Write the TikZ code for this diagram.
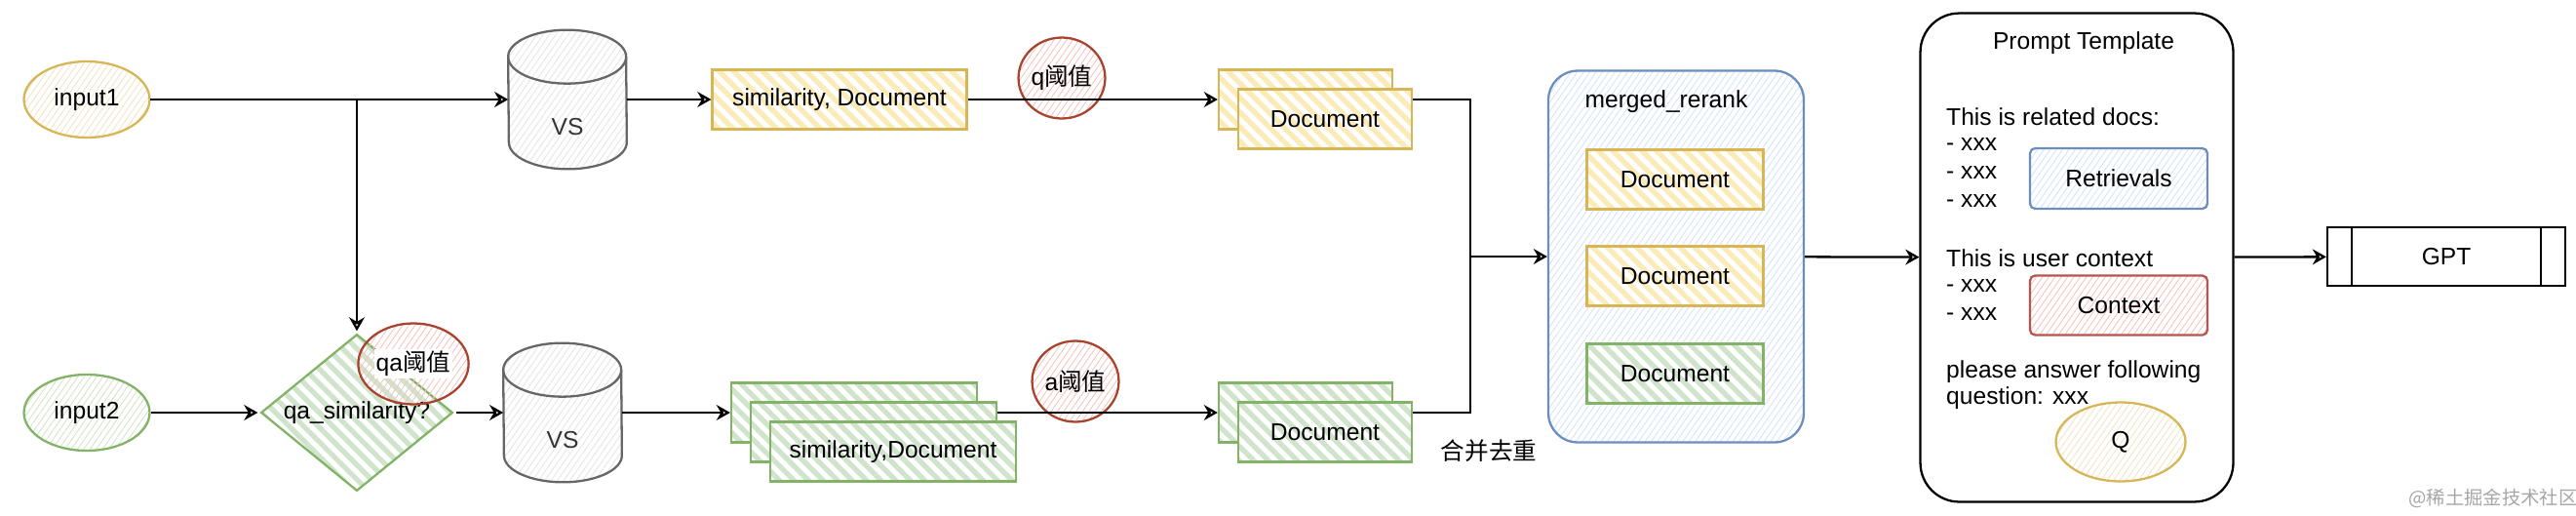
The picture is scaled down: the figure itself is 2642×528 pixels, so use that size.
\documentclass[tikz,border=0pt]{standalone}
\usepackage{fontspec}
\setmainfont{Liberation Sans}
\newfontfamily\cjk{Noto Sans CJK SC}
\usetikzlibrary{arrows.meta,shapes.geometric,patterns.meta,positioning}

\definecolor{ylwline}{HTML}{D6B656}
\definecolor{ylwfill}{HTML}{FBEBB8}
\definecolor{grnline}{HTML}{82B366}
\definecolor{grnfill}{HTML}{D0E4CC}
\definecolor{blueline}{HTML}{6C8EBF}
\definecolor{bluefill}{HTML}{D4E2FA}
\definecolor{redline}{HTML}{B85450}
\definecolor{redfill}{HTML}{F4C4C0}
\definecolor{thrline}{HTML}{A8432F}
\definecolor{vsline}{HTML}{666666}

\newcommand{\dbshape}[1]{%
  \draw[dbline, hatch=black!10] ([yshift=-0.55cm]#1.north west) arc[start angle=180, end angle=0, x radius=1.21cm, y radius=0.55cm]
    -- ([yshift=0.55cm]#1.south east) arc[start angle=0, end angle=-180, x radius=1.21cm, y radius=0.55cm] -- cycle;
  \draw[dbline] ([yshift=-0.55cm]#1.north west) arc[start angle=180, end angle=360, x radius=1.21cm, y radius=0.55cm];
}

\begin{document}
\begin{tikzpicture}[x=0.02cm, y=-0.02cm,
    every node/.style={font=\fontsize{14pt}{16pt}\selectfont},
    arr/.style={-{Stealth[open,length=8pt,width=9pt]}, line width=1.3pt},
    link/.style={line width=1.3pt},
    hatch/.style={pattern={Lines[angle=55,distance=3pt,line width=0.5pt]}, pattern color=#1},
    doc/.style 2 args={draw=#1, line width=1.3pt, preaction={fill=white}, pattern={Lines[angle=-45,distance=6pt,line width=3pt]}, pattern color=#2, minimum height=1.22cm},
    inp/.style={ellipse, draw=#1, line width=1.3pt, minimum width=2.58cm, minimum height=1.56cm, hatch=#1!35},
    db/.style={minimum width=2.42cm, minimum height=2.84cm, inner sep=0pt},
    dbline/.style={draw=vsline, line width=1.3pt},
    thr/.style={ellipse, draw=thrline, line width=1.3pt, minimum width=1.7cm, minimum height=1.66cm, inner sep=0pt, hatch=redfill}
]
\useasboundingbox (0,0) rectangle (2642,528);

\node[inp=ylwline] (input1) at (89,102) {input1};
\node[inp=grnline] (input2) at (89,423) {input2};
\node[db] (vs1) at (582,102) {};
\dbshape{vs1}
\node[text=black!80] (vs1t) at (582,130) {VS};
\node[diamond, draw=grnline, line width=1.3pt, inner sep=0pt, aspect=1.22, minimum width=3.96cm, minimum height=3.24cm, pattern={Lines[angle=-45,distance=6pt,line width=3pt]}, pattern color=grnfill] (dia) at (366,423) {qa\_similarity?};
\node[thr] (qathr) at (424,373) {\setlength{\fboxsep}{1pt}\colorbox{white}{qa{\cjk 阈值}}};
\node[db] (vs2) at (577,423) {};
\dbshape{vs2}
\node[text=black!80] (vs2t) at (577,451) {VS};

\node[doc={ylwline}{ylwfill}, minimum width=5.22cm] (simq) at (861,102) {similarity, Document};
\node[thr] (qthr) at (1089,80) {q{\cjk 阈值}};
\node[doc={ylwline}{ylwfill}, minimum width=3.56cm] (docqb) at (1339,102) {};
\node[doc={ylwline}{ylwfill}, minimum width=3.56cm] (docqf) at (1359,122) {Document};

\node[doc={grnline}{grnfill}, minimum width=5.04cm] (sima1) at (876,423) {};
\node[doc={grnline}{grnfill}, minimum width=5.04cm] (sima2) at (896,443) {};
\node[doc={grnline}{grnfill}, minimum width=5.04cm] (sima3) at (916,463) {similarity,Document};
\node[thr] (athr) at (1103,391) {a{\cjk 阈值}};
\node[doc={grnline}{grnfill}, minimum width=3.56cm] (docab) at (1339,423) {};
\node[doc={grnline}{grnfill}, minimum width=3.56cm] (docaf) at (1359,443) {Document};

\coordinate (mj) at (1508,263);
\node (dedup) at (1527,462) {\cjk 合并去重};

\node[draw=blueline, line width=1.3pt, rounded corners=0.6cm, minimum width=5.24cm, minimum height=7.62cm, hatch=bluefill] (merged) at (1719,263) {};
\node (mtitle) at (1709,104) {merged\_rerank};
\node[doc={ylwline}{ylwfill}, minimum width=3.62cm] (mdoc1) at (1718,184) {Document};
\node[doc={ylwline}{ylwfill}, minimum width=3.62cm] (mdoc2) at (1718,283) {Document};
\node[doc={grnline}{grnfill}, minimum width=3.62cm] (mdoc3) at (1718,383) {Document};

\node[draw, line width=1.3pt, rounded corners=0.8cm, minimum width=6.42cm, minimum height=10.02cm] (prompt) at (2130,264) {};
\node (ptitle) at (2137,44) {Prompt Template};
\node[anchor=west] (rel) at (1990,120) {This is related docs:};
\node[anchor=west] (rx1) at (1990,148) {- xxx};
\node[anchor=west] (rx2) at (1990,177) {- xxx};
\node[anchor=west] (rx3) at (1990,206) {- xxx};
\node[draw=blueline, line width=1.3pt, rounded corners=3pt, minimum width=3.64cm, minimum height=1.24cm, hatch=bluefill] (retr) at (2173,183) {Retrievals};
\node[anchor=west] (usr) at (1990,265) {This is user context};
\node[anchor=west] (ux1) at (1990,293) {- xxx};
\node[anchor=west] (ux2) at (1990,322) {- xxx};
\node[draw=redline, line width=1.3pt, rounded corners=3pt, minimum width=3.64cm, minimum height=1.22cm, hatch=redfill] (ctx) at (2173,313) {Context};
\node[anchor=west] (ask1) at (1990,381) {please answer following};
\node[anchor=west] (ask2) at (1990,408) {question: xxx};
\node[ellipse, draw=ylwline, line width=1.3pt, minimum width=2.66cm, minimum height=1.62cm, hatch=ylwline!35] (qnode) at (2175,453) {Q};

\node[draw, line width=1.3pt, minimum width=4.88cm, minimum height=1.2cm] (gpt) at (2509,263) {GPT};
\draw[link] ([xshift=0.52cm]gpt.north west) -- ([xshift=0.52cm]gpt.south west);
\draw[link] ([xshift=-0.52cm]gpt.north east) -- ([xshift=-0.52cm]gpt.south east);

\node[text=black!35, font=\cjk\fontsize{11pt}{12pt}\selectfont] (wmark) at (2557,511) {@稀土掘金技术社区};

\draw[arr] (input1) -- (vs1);
\draw[arr] (input1 -| dia) -- (dia);
\draw[arr] (input2) -- (dia);
\draw[arr] (dia) -- (vs2);
\draw[arr] (vs1) -- (simq);
\draw[arr] (vs2) -- (sima1);
\draw[arr] (simq) -- (docqb);
\draw[arr] (sima2.east |- sima1.east) -- (docab);
\draw[link] (docqf.east |- docqb.east) -| (mj);
\draw[link] (docaf.east |- docab.east) -| (mj);
\draw[arr] (mj) -- (merged);
\draw[arr] (merged) -- (prompt);
\draw[arr] (prompt) -- (gpt);
\end{tikzpicture}
\end{document}
